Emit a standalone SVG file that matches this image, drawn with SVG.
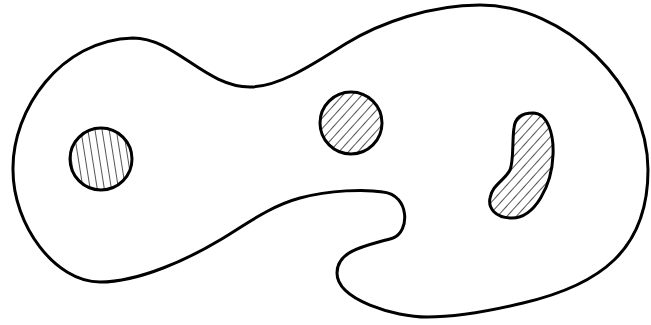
<svg xmlns="http://www.w3.org/2000/svg" width="651" height="325" viewBox="0 0 651 325">
<style>
.outline{fill:#fff;stroke:#000;stroke-width:3;stroke-linejoin:round}
.inner{stroke:#000;stroke-width:3}
.hatch{stroke:#555;stroke-width:1}
</style>
<defs>
<pattern id="hv" width="7" height="20" patternUnits="userSpaceOnUse" patternTransform="rotate(-9)">
<rect width="7" height="20" fill="#fff"/>
<line class="hatch" x1="3.5" y1="0" x2="3.5" y2="20"/>
</pattern>
<pattern id="hd" width="7" height="20" patternUnits="userSpaceOnUse" patternTransform="rotate(42)">
<rect width="7" height="20" fill="#fff"/>
<line class="hatch" x1="3.5" y1="0" x2="3.5" y2="20"/>
</pattern>
</defs>
<g id="body">
<path class="outline" d="M13,170 C12,110 60,40 133,38 C175,38 205,87 250,87 C280,87 315,63 347,43 C380,23 430,5 480,5 C565,5 648,85 648,170 C648,250 600,285 523,303 C490,311 455,317 427,317 C395,317 337,300 337,273 C337,250 366,246 393,238 C410,232 410,195 383,192 C365,189 330,190 300,198 C270,206 245,225 220,240 C190,258 140,282 100,282 C55,282 13,225 13,170 Z"/>
</g>
<g id="nucleus1">
<circle class="inner" cx="101" cy="159" r="31" fill="url(#hv)"/>
</g>
<g id="nucleus2">
<circle class="inner" cx="351" cy="123" r="31" fill="url(#hd)"/>
</g>
<g id="kidney">
<path class="inner" fill="url(#hd)" d="M533,113 C548,113 554,135 553,155 C552,185 535,218 512,218 C495,218 488,208 490,198 C492,185 505,180 510,170 C514,160 512,140 514,128 C515,118 522,113 533,113 Z"/>
</g>
<g id="connectors"></g>
</svg>
